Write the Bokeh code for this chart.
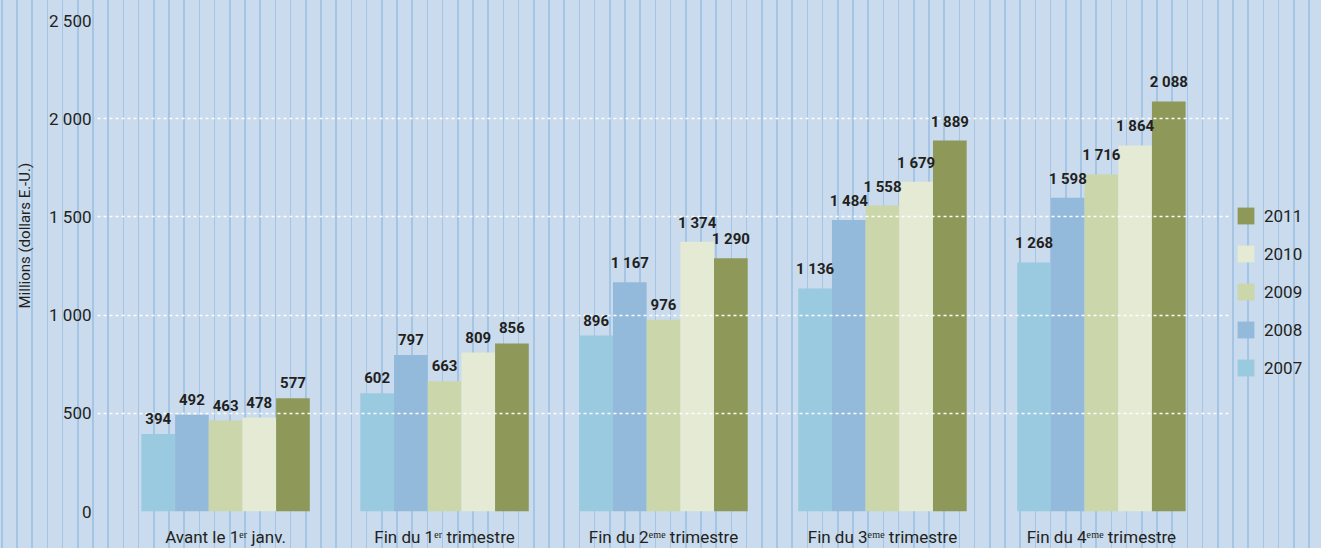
from bokeh.plotting import figure
from bokeh.models import (ColumnDataSource, FactorRange, Range1d, LabelSet, Legend, LegendItem,
                          FixedTicker, CustomJSTickFormatter, Title)
from bokeh.core.properties import value
from bokeh.transform import dodge
from bokeh.embed import file_html
from bokeh.resources import INLINE

# ---- data ----
quarters = ["Avant le 1ᵉʳ janv.", "Fin du 1ᵉʳ trimestre", "Fin du 2ᵉᵐᵉ trimestre",
            "Fin du 3ᵉᵐᵉ trimestre", "Fin du 4ᵉᵐᵉ trimestre"]
years = ["2007", "2008", "2009", "2010", "2011"]
v2007 = [394, 602, 896, 1136, 1268]
v2008 = [492, 797, 1167, 1484, 1598]
v2009 = [463, 663, 976, 1558, 1716]
v2010 = [478, 809, 1374, 1679, 1864]
v2011 = [577, 856, 1290, 1889, 2088]
y_ticks = [0, 500, 1000, 1500, 2000, 2500]
series = [v2007, v2008, v2009, v2010, v2011]

# ---- styles ----
FONT = "Roboto"
TEXT = "#231f20"
BG = "#c9dbed"
STRIPE = "#a5c5e4"
colors = ["#9acae0", "#94badb", "#cbd6ab", "#e4ead4", "#8e9858"]
W = 1 / 6.5

def fmt(v):
    return f"{v:,}".replace(",", " ")

data = {"q": quarters}
for yr, vals in zip(years, series):
    data["y" + yr] = vals
    data["t" + yr] = [fmt(v) for v in vals]
src = ColumnDataSource(data)

p = figure(x_range=FactorRange(factors=quarters, range_padding=0.085, range_padding_units="absolute"),
           y_range=Range1d(0, 2500), frame_width=1132, frame_height=491,
           output_backend="svg", toolbar_location=None,
           min_border_top=20, min_border_left=96, min_border_right=93, min_border_bottom=37,
           background_fill_color=None, border_fill_color=None, outline_line_color=None)

# striped page background (decorative), visible through the transparent plot fills
p.styles = {
    "background-color": BG,
    "background-image": f"repeating-linear-gradient(90deg, {STRIPE} 0px, {STRIPE} 1.6px, "
                        f"{BG} 1.6px, {BG} 15.2px)",
    "background-position": "1px 0px",
}

renderers = []
for i, yr in enumerate(years):
    off = (i - 2) * W
    r = p.vbar(x=dodge("q", off, range=p.x_range), top="y" + yr, width=W, bottom=0,
               source=src, fill_color=colors[i], line_color=None)
    renderers.append(r)
    lbl = LabelSet(x=dodge("q", off, range=p.x_range), y="y" + yr, text="t" + yr, source=src,
                   text_align="center", text_baseline="bottom", y_offset=10,
                   text_font=value(FONT), text_font_size=value("15px"),
                   text_font_style=value("bold"), text_color=value(TEXT))
    p.add_layout(lbl)

# axes
for ax in (p.xaxis, p.yaxis):
    ax.axis_line_color = None
    ax.major_tick_line_color = None
    ax.minor_tick_line_color = None
    ax.major_label_text_font = FONT
    ax.major_label_text_color = TEXT
p.xaxis.major_label_text_font_size = "17px"
p.yaxis.major_label_text_font_size = "17px"
p.xaxis.major_label_standoff = 9
p.yaxis.major_label_standoff = 0
p.yaxis.ticker = FixedTicker(ticks=y_ticks)
p.yaxis.formatter = CustomJSTickFormatter(
    code="return tick >= 1000 ? Math.floor(tick/1000) + ' ' + String(tick % 1000).padStart(3, '0') : String(tick);")

p.xgrid.grid_line_color = None
p.ygrid.ticker = FixedTicker(ticks=y_ticks)
p.ygrid.grid_line_color = "white"
p.ygrid.grid_line_dash = "3 3"
p.ygrid.grid_line_width = 1.3
p.ygrid.level = "annotation"

ytitle = Title(text="Millions (dollars E.-U.)", align="left", offset=203,
               text_font=FONT, text_font_size="15px", text_font_style="normal",
               text_color=TEXT)
try:
    ytitle.standoff = 26
except Exception:
    pass
p.add_layout(ytitle, "left")

legend = Legend(items=[LegendItem(label=years[i], renderers=[renderers[i]]) for i in range(4, -1, -1)],
                location=(6, 133), orientation="vertical", glyph_width=21, glyph_height=21,
                label_standoff=8, spacing=17, padding=0, margin=0, border_line_color=None,
                background_fill_alpha=0, label_text_font=FONT, label_text_font_size="17px",
                label_text_color=TEXT, label_height=21)
p.add_layout(legend, "right")

with open("out.html", "w", encoding="utf-8") as f:
    f.write(file_html(p, INLINE))
